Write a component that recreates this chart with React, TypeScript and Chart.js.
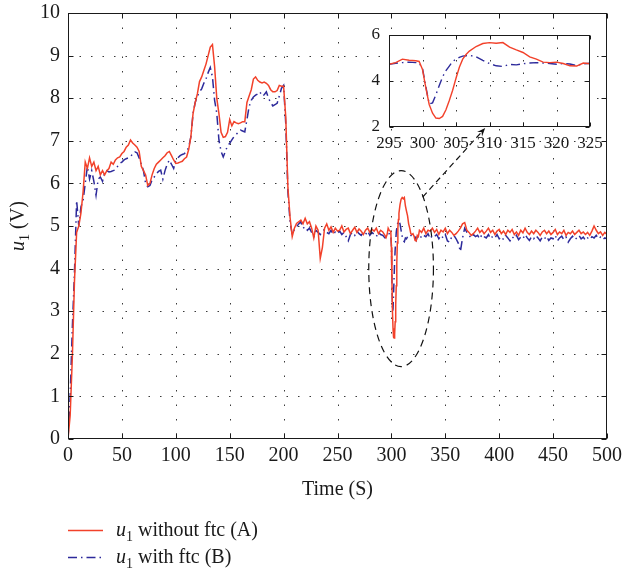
import React, { useEffect, useRef } from 'react';
import { Chart, registerables } from 'chart.js';

Chart.register(...registerables);

// ---------- data ----------
const TIME_STEP = 2; // seconds between samples of the main series (t = 0, 2, 4, ... 500)

const RED_A = [
  0, 0.55, 1.9, 3.7, 4.85, 5.0, 5.3, 5.8, 6.5, 6.35,
  6.6, 6.4, 6.5, 6.3, 6.4, 6.2, 6.3, 6.2, 6.3, 6.35,
  6.5, 6.45, 6.55, 6.6, 6.62, 6.7, 6.75, 6.85, 6.9, 7.02,
  6.95, 6.9, 6.85, 6.75, 6.4, 6.3, 6.2, 5.95, 6.0, 6.2,
  6.35, 6.45, 6.5, 6.55, 6.6, 6.65, 6.72, 6.75, 6.65, 6.55,
  6.47, 6.48, 6.5, 6.52, 6.58, 6.62, 6.8, 7.1, 7.64, 7.9,
  8.1, 8.39, 8.5, 8.65, 8.8, 9.0, 9.2, 9.26, 8.74, 8.0,
  7.64, 7.2, 7.08, 7.1, 7.2, 7.5, 7.35, 7.45, 7.42, 7.4,
  7.42, 7.45, 7.45, 7.9, 8.05, 8.2, 8.45, 8.5, 8.42, 8.38,
  8.36, 8.38, 8.35, 8.3, 8.2, 8.15, 8.15, 8.18, 8.3, 8.28,
  8.28, 7.56, 5.9, 5.2, 4.75, 4.95, 5.06, 5.1, 5.14, 5.05,
  5.18, 5.05, 5.1, 4.95, 4.72, 5.0, 4.9, 4.24, 4.5, 4.95,
  5.05, 4.9, 4.98, 4.85, 4.95, 4.88, 4.9, 5.0, 4.86, 4.92,
  4.95, 4.82, 4.9, 4.97, 4.85, 4.93, 4.88, 4.8, 4.9, 4.95,
  4.85, 4.92, 4.88, 4.95, 4.82, 4.9, 4.86, 4.78, 4.8, 4.9,
  4.5, 2.39, 3.1, 5.0, 5.55, 5.67, 5.67, 5.35, 5.05, 4.85,
  4.8, 4.65, 4.82, 4.9, 4.85, 4.95, 4.82, 4.9, 4.88, 4.95,
  4.85, 4.92, 4.8, 4.9, 4.86, 4.95, 4.82, 4.9, 4.85, 4.78,
  4.82, 4.88, 4.95, 5.05, 5.08, 4.9, 4.85, 4.78, 4.82, 4.88,
  4.95, 4.85, 4.9, 4.82, 4.88, 4.95, 4.85, 4.9, 4.8, 4.88,
  4.92, 4.82, 4.88, 4.8, 4.9, 4.85, 4.92, 4.8, 4.86, 4.78,
  4.9, 4.84, 4.95, 4.85, 4.8, 4.88, 4.82, 4.9, 4.85, 4.78,
  4.86, 4.9, 4.82, 4.88, 4.8, 4.85, 4.92, 4.8, 4.86, 4.82,
  4.9, 4.78, 4.85, 4.82, 4.88, 4.8, 4.85, 4.9, 4.82, 4.86,
  4.8, 4.85, 4.78, 4.88, 5.0, 4.9, 4.82, 4.86, 4.78, 4.85,
  4.8,
];

const BLUE_B = [
  0, 1.0, 2.6, 3.9, 5.6, 5.0, 5.45, 5.6, 6.0, 6.4,
  6.1, 6.3, 6.05, 5.72, 6.1, 6.15, 6.05, 6.25, 6.3, 6.27,
  6.28, 6.3, 6.32, 6.4, 6.47, 6.5, 6.55, 6.58, 6.6, 6.62,
  6.7, 6.74, 6.72, 6.6, 6.45, 6.3, 6.0, 5.92, 5.95, 6.08,
  6.15, 6.23, 6.28, 6.31, 6.1, 6.3, 6.45, 6.55, 6.45, 6.35,
  6.55, 6.6, 6.65, 6.68, 6.7, 6.75, 6.85, 7.1, 7.64, 7.9,
  8.05, 8.15, 8.22, 8.35, 8.45, 8.6, 8.72, 8.5, 7.95, 7.65,
  7.02, 6.75, 6.62, 6.75, 6.88, 6.94, 7.02, 7.1, 7.15, 7.2,
  7.25, 7.23, 7.21, 7.5, 7.8, 7.95, 8.03, 8.07, 8.1, 8.15,
  8.05, 8.08, 8.15, 8.0, 7.9, 7.82, 7.85, 7.88, 8.05, 8.23,
  8.3, 7.4, 5.8, 5.1, 4.8, 4.92, 4.98, 5.05, 5.1, 4.95,
  4.98, 4.9, 4.95, 4.85, 4.75, 4.9, 4.85, 4.8, 4.88, 4.92,
  4.85, 4.82, 4.9, 4.8, 4.86, 4.82, 4.88, 4.8, 4.85, 4.75,
  4.65, 4.8, 4.85, 4.78, 4.88, 4.82, 4.78, 4.85, 4.8, 4.88,
  4.78, 4.85, 4.8, 4.75, 4.85, 4.8, 4.78, 4.72, 4.77, 4.83,
  4.45, 3.5, 4.7, 5.09, 5.0, 4.75, 4.63, 4.72, 4.77, 4.78,
  4.73, 4.75, 4.75, 4.8, 4.72, 4.78, 4.75, 4.82, 4.7, 4.78,
  4.75, 4.8, 4.7, 4.78, 4.72, 4.8, 4.65, 4.62, 4.75, 4.78,
  4.7, 4.6, 4.4, 4.72, 4.95, 4.85, 4.78, 4.72, 4.8, 4.75,
  4.78, 4.7, 4.8, 4.75, 4.72, 4.8, 4.7, 4.76, 4.72, 4.8,
  4.7, 4.75, 4.68, 4.78, 4.72, 4.65, 4.75, 4.7, 4.78, 4.68,
  4.74, 4.7, 4.8, 4.72, 4.66, 4.75, 4.7, 4.78, 4.72, 4.65,
  4.74, 4.7, 4.76, 4.66, 4.72, 4.7, 4.78, 4.65, 4.72, 4.76,
  4.68, 4.74, 4.62, 4.7, 4.76, 4.68, 4.72, 4.78, 4.7, 4.74,
  4.66, 4.72, 4.68, 4.75, 4.72, 4.78, 4.7, 4.74, 4.68, 4.72,
  4.7,
];

const TIME = RED_A.map((_, i) => i * TIME_STEP);

// zoomed detail (inset), 295 s .. 325 s
const INSET_TIME = [
  295, 296, 297, 298, 299, 299.5, 300, 300.5, 301, 301.5, 302, 302.5, 303, 303.5,
  304, 304.5, 305, 305.5, 306, 306.5, 307, 308, 309, 310, 311, 312, 313, 314,
  315, 316, 317, 318, 319, 320, 321, 322, 323, 324, 325,
];
const INSET_RED = [
  4.73, 4.8, 4.95, 4.9, 4.88, 4.85, 4.5, 3.7, 2.98, 2.6, 2.39, 2.37, 2.46, 2.75,
  3.15, 3.6, 4.12, 4.6, 4.95, 5.15, 5.3, 5.5, 5.63, 5.67, 5.64, 5.67, 5.47, 5.35,
  5.24, 5.05, 4.95, 4.82, 4.8, 4.82, 4.76, 4.66, 4.65, 4.78, 4.75,
];
const INSET_BLUE = [
  4.73, 4.77, 4.8, 4.82, 4.8, 4.78, 4.55, 3.75, 3.0, 3.05, 3.4, 3.8, 4.18, 4.45,
  4.65, 4.85, 4.95, 5.03, 5.08, 5.1, 5.12, 5.05, 4.9, 4.76, 4.66, 4.63, 4.72, 4.7,
  4.75, 4.78, 4.8, 4.78, 4.76, 4.73, 4.76, 4.74, 4.67, 4.75, 4.77,
];

const X_TICKS = [0, 50, 100, 150, 200, 250, 300, 350, 400, 450, 500];
const Y_TICKS = [0, 1, 2, 3, 4, 5, 6, 7, 8, 9, 10];
const INSET_X_TICKS = [295, 300, 305, 310, 315, 320, 325];
const INSET_Y_TICKS = [2, 4, 6];

const SERIES_LABELS = [' without ftc (A)', ' with ftc (B)'];
const X_TITLE = 'Time (S)';

// annotation (ellipse around the dip, arrow to the inset) in data units
const ELLIPSE = { cx: 309, cy: 4.0, rx: 30, ry: 2.3 };
const ARROW = { x0: 329, y0: 5.68, x1: 387, y1: 7.3 };

// ---------- styles ----------
const RED_COLOR = '#f2412a';
const BLUE_COLOR = '#2d2a9b';
const DASH_DOT = [9, 4, 1.5, 4];
const FONT = "'Liberation Serif', 'Times New Roman', serif";

function merge(mainT: number[], mainV: number[], insT: number[], insV: number[]) {
  const lo = insT[0];
  const hi = insT[insT.length - 1];
  const pts: { x: number; y: number }[] = [];
  mainT.forEach((t, i) => {
    if (t < lo || t > hi) pts.push({ x: t, y: mainV[i] });
  });
  insT.forEach((t, i) => pts.push({ x: t, y: insV[i] }));
  return pts.sort((a, b) => a.x - b.x);
}

function drawFrame(chart: any, xTicks: number[], yTicks: number[], tickLen: number) {
  const { ctx, chartArea: a, scales } = chart;
  const xs = scales.x;
  const ys = scales.y;
  const L = Math.round(a.left) + 0.5;
  const R = Math.round(a.right) - 0.5;
  const T = Math.round(a.top) + 0.5;
  const B = Math.round(a.bottom) - 0.5;
  ctx.save();
  ctx.strokeStyle = '#1a1a1a';
  ctx.lineWidth = 1;
  ctx.setLineDash([]);
  ctx.strokeRect(L, T, R - L, B - T);
  ctx.beginPath();
  xTicks.forEach((v) => {
    const px = Math.round(xs.getPixelForValue(v)) + 0.5;
    ctx.moveTo(px, B);
    ctx.lineTo(px, B - tickLen);
    ctx.moveTo(px, T);
    ctx.lineTo(px, T + tickLen);
  });
  yTicks.forEach((v) => {
    const py = Math.round(ys.getPixelForValue(v)) + 0.5;
    ctx.moveTo(L, py);
    ctx.lineTo(L + tickLen, py);
    ctx.moveTo(R, py);
    ctx.lineTo(R - tickLen, py);
  });
  ctx.stroke();
  ctx.restore();
}

function drawGrid(chart: any, xTicks: number[], yTicks: number[], xDash: number[], yDash: number[]) {
  const { ctx, chartArea: a, scales } = chart;
  const xs = scales.x;
  const ys = scales.y;
  ctx.save();
  ctx.strokeStyle = '#3a3a3a';
  ctx.lineWidth = 1;
  ctx.setLineDash(xDash);
  ctx.beginPath();
  xTicks.slice(1, -1).forEach((v) => {
    const px = Math.round(xs.getPixelForValue(v)) + 0.5;
    ctx.moveTo(px, a.top);
    ctx.lineTo(px, a.bottom);
  });
  ctx.stroke();
  ctx.setLineDash(yDash);
  ctx.beginPath();
  yTicks.slice(1, -1).forEach((v) => {
    const py = Math.round(ys.getPixelForValue(v)) + 0.5;
    ctx.moveTo(a.left, py);
    ctx.lineTo(a.right, py);
  });
  ctx.stroke();
  ctx.restore();
}

function drawU1(ctx: CanvasRenderingContext2D, x: number, y: number, rest: string, size: number) {
  ctx.font = `italic ${size}px ${FONT}`;
  ctx.fillText('u', x, y);
  let cx = x + ctx.measureText('u').width;
  ctx.font = `${Math.round(size * 0.7)}px ${FONT}`;
  ctx.fillText('1', cx, y + size * 0.25);
  cx += ctx.measureText('1').width;
  ctx.font = `${size}px ${FONT}`;
  ctx.fillText(rest, cx, y);
}

function widthU1(ctx: CanvasRenderingContext2D, rest: string, size: number) {
  ctx.font = `italic ${size}px ${FONT}`;
  let w = ctx.measureText('u').width;
  ctx.font = `${Math.round(size * 0.7)}px ${FONT}`;
  w += ctx.measureText('1').width;
  ctx.font = `${size}px ${FONT}`;
  w += ctx.measureText(rest).width;
  return w;
}

const mainPlugin = {
  id: 'mainFrame',
  beforeDatasetsDraw(chart: any) {
    drawGrid(chart, X_TICKS, Y_TICKS, [1.5, 13], [1.5, 10]);
  },
  afterDatasetsDraw(chart: any) {
    const { ctx, scales } = chart;
    drawFrame(chart, X_TICKS, Y_TICKS, 5);
    const xs = scales.x;
    const ys = scales.y;
    // dashed ellipse
    const cx = xs.getPixelForValue(ELLIPSE.cx);
    const cy = ys.getPixelForValue(ELLIPSE.cy);
    const rx = xs.getPixelForValue(ELLIPSE.cx + ELLIPSE.rx) - cx;
    const ry = cy - ys.getPixelForValue(ELLIPSE.cy + ELLIPSE.ry);
    ctx.save();
    ctx.strokeStyle = '#111';
    ctx.lineWidth = 1.2;
    ctx.setLineDash([7, 5]);
    ctx.beginPath();
    ctx.ellipse(cx, cy, rx, ry, 0, 0, Math.PI * 2);
    ctx.stroke();
    // dashed arrow
    const x0 = xs.getPixelForValue(ARROW.x0);
    const y0 = ys.getPixelForValue(ARROW.y0);
    const x1 = xs.getPixelForValue(ARROW.x1);
    const y1 = ys.getPixelForValue(ARROW.y1);
    const ang = Math.atan2(y1 - y0, x1 - x0);
    const head = 9;
    ctx.setLineDash([6, 4]);
    ctx.beginPath();
    ctx.moveTo(x0, y0);
    ctx.lineTo(x1 - Math.cos(ang) * head * 0.6, y1 - Math.sin(ang) * head * 0.6);
    ctx.stroke();
    ctx.setLineDash([]);
    ctx.fillStyle = '#111';
    ctx.beginPath();
    ctx.moveTo(x1, y1);
    ctx.lineTo(x1 - head * Math.cos(ang - 0.38), y1 - head * Math.sin(ang - 0.38));
    ctx.lineTo(x1 - head * 0.6 * Math.cos(ang), y1 - head * 0.6 * Math.sin(ang));
    ctx.lineTo(x1 - head * Math.cos(ang + 0.38), y1 - head * Math.sin(ang + 0.38));
    ctx.closePath();
    ctx.fill();
    ctx.restore();
  },
  afterDraw(chart: any) {
    const { ctx, chartArea: a } = chart;
    ctx.save();
    ctx.fillStyle = '#1a1a1a';
    ctx.textBaseline = 'alphabetic';
    // x title
    ctx.font = `20px ${FONT}`;
    ctx.textAlign = 'center';
    ctx.fillText(X_TITLE, (a.left + a.right) / 2, 495);
    // y title (rotated)
    ctx.textAlign = 'left';
    const yw = widthU1(ctx, ' (V)', 20);
    ctx.save();
    ctx.translate(24, (a.top + a.bottom) / 2);
    ctx.rotate(-Math.PI / 2);
    drawU1(ctx, -yw / 2, 0, ' (V)', 20);
    ctx.restore();
    // legend
    const rows = [
      { y: 530, color: RED_COLOR, dash: [] as number[], text: SERIES_LABELS[0] },
      { y: 557, color: BLUE_COLOR, dash: DASH_DOT, text: SERIES_LABELS[1] },
    ];
    rows.forEach((r) => {
      ctx.save();
      ctx.strokeStyle = r.color;
      ctx.lineWidth = 1.5;
      ctx.setLineDash(r.dash);
      ctx.beginPath();
      ctx.moveTo(68, r.y + 0.5);
      ctx.lineTo(103, r.y + 0.5);
      ctx.stroke();
      ctx.restore();
      ctx.fillStyle = '#1a1a1a';
      drawU1(ctx, 116, r.y + 6, r.text, 20);
    });
    ctx.restore();
  },
};

const insetPlugin = {
  id: 'insetFrame',
  beforeDraw(chart: any) {
    const { ctx, chartArea: a } = chart;
    ctx.save();
    ctx.fillStyle = '#ffffff';
    ctx.fillRect(a.left, a.top, a.right - a.left, a.bottom - a.top);
    ctx.restore();
  },
  beforeDatasetsDraw(chart: any) {
    drawGrid(chart, INSET_X_TICKS, INSET_Y_TICKS, [1.5, 11], [1.5, 10]);
  },
  afterDatasetsDraw(chart: any) {
    drawFrame(chart, INSET_X_TICKS, INSET_Y_TICKS, 4);
  },
};

function zeroPad(s: any) {
  s.paddingTop = 0;
  s.paddingBottom = 0;
  s.paddingLeft = 0;
  s.paddingRight = 0;
}

export default function App() {
  const mainRef = useRef<HTMLCanvasElement>(null);
  const insetRef = useRef<HTMLCanvasElement>(null);

  useEffect(() => {
    document.body.style.margin = '0';
    const tickFont = { family: FONT, size: 20 };
    const main = new Chart(mainRef.current as HTMLCanvasElement, {
      type: 'line',
      data: {
        datasets: [
          {
            label: 'u1' + SERIES_LABELS[0],
            data: merge(TIME, RED_A, INSET_TIME, INSET_RED),
            borderColor: RED_COLOR,
            borderWidth: 1.5,
            pointRadius: 0,
            fill: false,
            tension: 0,
          },
          {
            label: 'u1' + SERIES_LABELS[1],
            data: merge(TIME, BLUE_B, INSET_TIME, INSET_BLUE),
            borderColor: BLUE_COLOR,
            borderWidth: 1.5,
            borderDash: DASH_DOT,
            pointRadius: 0,
            fill: false,
            tension: 0,
          },
        ],
      },
      options: {
        animation: false,
        responsive: false,
        maintainAspectRatio: false,
        layout: { padding: { left: 0, right: 18, top: 13, bottom: 0 } },
        plugins: { legend: { display: false }, tooltip: { enabled: false } },
        scales: {
          x: {
            type: 'linear',
            min: 0,
            max: 500,
            afterBuildTicks: (s: any) => {
              s.ticks = X_TICKS.map((v) => ({ value: v }));
            },
            afterFit: (s: any) => {
              s.height = 129;
              zeroPad(s);
            },
            grid: { display: false, drawTicks: false },
            border: { display: false },
            ticks: { font: tickFont, color: '#1a1a1a', padding: 5, maxRotation: 0, autoSkip: false },
          },
          y: {
            type: 'linear',
            min: 0,
            max: 10,
            afterBuildTicks: (s: any) => {
              s.ticks = Y_TICKS.map((v) => ({ value: v }));
            },
            afterFit: (s: any) => {
              s.width = 68;
              zeroPad(s);
            },
            grid: { display: false, drawTicks: false },
            border: { display: false },
            ticks: { font: tickFont, color: '#1a1a1a', padding: 8, autoSkip: false },
          },
        },
      },
      plugins: [mainPlugin],
    } as any);

    const insetFont = { family: FONT, size: 17 };
    const inset = new Chart(insetRef.current as HTMLCanvasElement, {
      type: 'line',
      data: {
        datasets: [
          {
            label: 'A',
            data: INSET_TIME.map((t, i) => ({ x: t, y: INSET_RED[i] })),
            borderColor: RED_COLOR,
            borderWidth: 1.4,
            pointRadius: 0,
            fill: false,
            tension: 0,
          },
          {
            label: 'B',
            data: INSET_TIME.map((t, i) => ({ x: t, y: INSET_BLUE[i] })),
            borderColor: BLUE_COLOR,
            borderWidth: 1.4,
            borderDash: DASH_DOT,
            pointRadius: 0,
            fill: false,
            tension: 0,
          },
        ],
      },
      options: {
        animation: false,
        responsive: false,
        maintainAspectRatio: false,
        layout: { padding: { left: 0, right: 30, top: 15, bottom: 0 } },
        plugins: { legend: { display: false }, tooltip: { enabled: false } },
        scales: {
          x: {
            type: 'linear',
            min: 295,
            max: 325,
            afterBuildTicks: (s: any) => {
              s.ticks = INSET_X_TICKS.map((v) => ({ value: v }));
            },
            afterFit: (s: any) => {
              s.height = 33;
              zeroPad(s);
            },
            grid: { display: false, drawTicks: false },
            border: { display: false },
            ticks: { font: insetFont, color: '#1a1a1a', padding: 6, maxRotation: 0, autoSkip: false },
          },
          y: {
            type: 'linear',
            min: 2,
            max: 6,
            afterBuildTicks: (s: any) => {
              s.ticks = INSET_Y_TICKS.map((v) => ({ value: v }));
            },
            afterFit: (s: any) => {
              s.width = 49;
              zeroPad(s);
            },
            grid: { display: false, drawTicks: false },
            border: { display: false },
            ticks: { font: insetFont, color: '#1a1a1a', padding: 9, autoSkip: false },
          },
        },
      },
      plugins: [insetPlugin],
    } as any);

    return () => {
      main.destroy();
      inset.destroy();
    };
  }, []);

  return (
    <div style={{ position: 'relative', width: 625, height: 568, background: '#fff' }}>
      <canvas ref={mainRef} width={625} height={568} style={{ display: 'block', width: 625, height: 568 }} />
      <canvas
        ref={insetRef}
        width={280}
        height={140}
        style={{ position: 'absolute', left: 340, top: 20, width: 280, height: 140 }}
      />
    </div>
  );
}
